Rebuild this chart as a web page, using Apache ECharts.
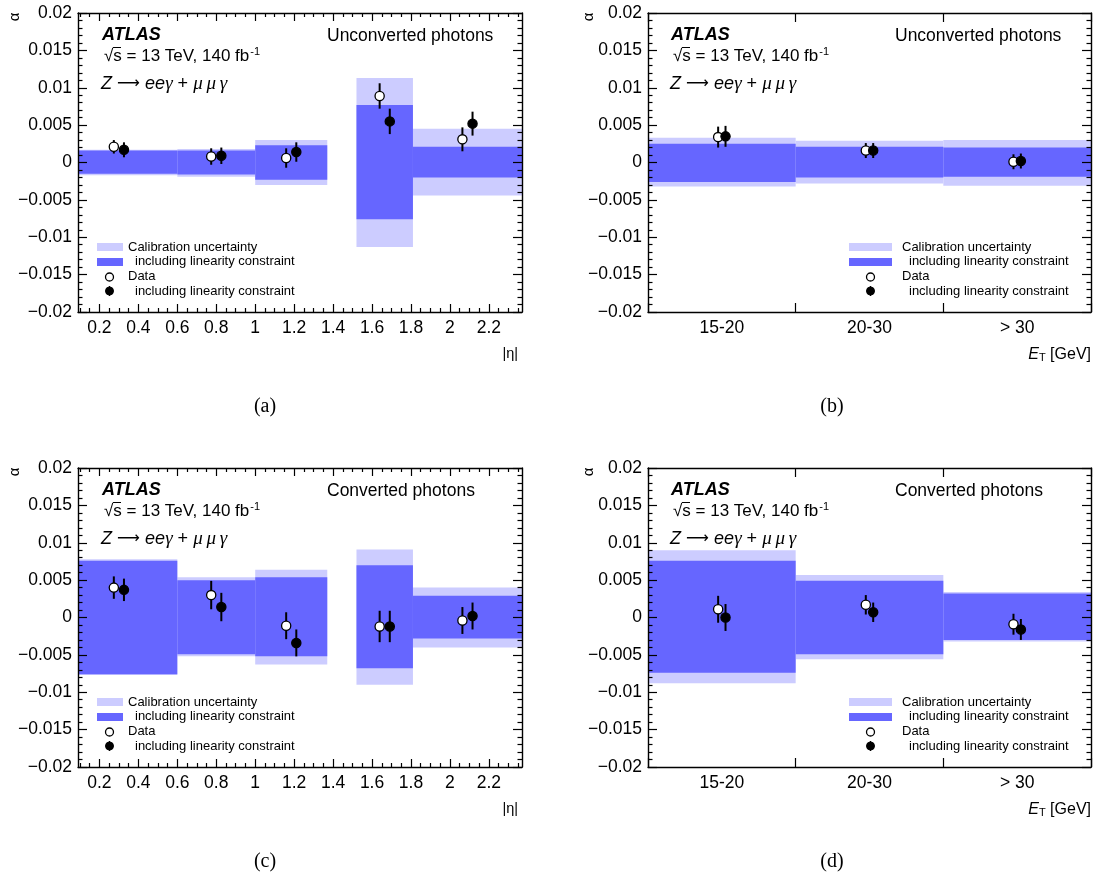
<!DOCTYPE html>
<html><head><meta charset="utf-8">
<script src="https://cdn.jsdelivr.net/npm/echarts@6/dist/echarts.min.js"></script>
<style>html,body{margin:0;padding:0;background:#fff}#c{width:1094px;height:877px}</style>
</head><body><div id="c"></div>
<script>
// ---------------- data ----------------
const etaBins = [[0, 0.6], [0.6, 1.0], [1.0, 1.37], [1.52, 1.81], [1.81, 2.37]];
const etaTickValues = [0.2, 0.4, 0.6, 0.8, 1.0, 1.2, 1.4, 1.6, 1.8, 2.0, 2.2];
const etCategories = ['15-20', '20-30', '> 30'];
const yTickValues = [-0.02, -0.015, -0.01, -0.005, 0, 0.005, 0.01, 0.015, 0.02];

// (a) unconverted, |eta|
const aCalibHi = [0.0017, 0.0018, 0.0030, 0.0113, 0.0045];
const aCalibLo = [-0.0017, -0.0019, -0.0030, -0.0113, -0.0044];
const aLinHi = [0.0016, 0.0016, 0.0023, 0.0077, 0.0021];
const aLinLo = [-0.0015, -0.0016, -0.0023, -0.0076, -0.0020];
const aData = [0.0021, 0.0008, 0.0006, 0.0089, 0.0031];
const aDataErr = [0.0009, 0.0011, 0.0013, 0.0017, 0.0016];
const aLinData = [0.0017, 0.0009, 0.0014, 0.0055, 0.0052];
const aLinErr = [0.0010, 0.0011, 0.0013, 0.0017, 0.0016];

// (b) unconverted, ET
const bCalibHi = [0.0033, 0.0029, 0.0030];
const bCalibLo = [-0.0032, -0.0028, -0.0031];
const bLinHi = [0.0025, 0.0021, 0.0020];
const bLinLo = [-0.0026, -0.0020, -0.0019];
const bData = [0.0034, 0.0016, 0.0001];
const bDataErr = [0.0014, 0.0010, 0.0010];
const bLinData = [0.0035, 0.0016, 0.0002];
const bLinErr = [0.0014, 0.0010, 0.0010];

// (c) converted, |eta|
const cCalibHi = [0.0078, 0.0054, 0.0064, 0.0091, 0.0040];
const cCalibLo = [-0.0077, -0.0052, -0.0063, -0.0090, -0.0040];
const cLinHi = [0.0076, 0.0050, 0.0054, 0.0070, 0.0029];
const cLinLo = [-0.0076, -0.0049, -0.0052, -0.0068, -0.0028];
const cData = [0.0040, 0.0030, -0.0011, -0.0012, -0.0004];
const cDataErr = [0.0015, 0.0019, 0.0018, 0.0021, 0.0018];
const cLinData = [0.0037, 0.0014, -0.0034, -0.0012, 0.0002];
const cLinErr = [0.0015, 0.0019, 0.0018, 0.0021, 0.0018];

// (d) converted, ET
const dCalibHi = [0.0090, 0.0057, 0.0034];
const dCalibLo = [-0.0088, -0.0056, -0.0032];
const dLinHi = [0.0076, 0.0049, 0.0032];
const dLinLo = [-0.0074, -0.0049, -0.0030];
const dData = [0.0011, 0.0017, -0.0009];
const dDataErr = [0.0018, 0.0013, 0.0014];
const dLinData = [0.0000, 0.0007, -0.0016];
const dLinErr = [0.0018, 0.0013, 0.0014];

// ---------------- styling ----------------
const FONT = '"Liberation Sans", Arial, Helvetica, sans-serif';
const SERIF = '"Liberation Serif", "Times New Roman", serif';
const LIGHT = '#ccccff', DARK = '#6666ff';
const BIG = 17.5;
const grids = [
  {left: 78, top: 13, width: 444, height: 299},
  {left: 648, top: 13, width: 443, height: 299},
  {left: 78, top: 468, width: 444, height: 299},
  {left: 648, top: 468, width: 443, height: 299}
];
const ETA_MIN = 0.09, ETA_MAX = 2.37;
const PT_OFF = 0.026;   // horizontal offset of the two markers, eta units
const CAT_OFF = 0.025;  // same, in fraction of category width

const minorEta = [];
for (let k = 2; k <= 47; k++) { const v = +(k * 0.05).toFixed(2); if (v > ETA_MIN && v < ETA_MAX && Math.abs(v * 5 - Math.round(v * 5)) > 1e-6) minorEta.push(v); }

const lineStyle = {color: '#000', width: 1.4};
const xAxes = [], yAxes = [], series = [];

function yLabel(v) {
  const r = Math.round(v * 10000) / 10000;
  if (r === 0) return '0';
  return (r < 0 ? '\u2212' : '') + String(Math.abs(r));
}

function addYAxes(g) {
  const base = {
    type: 'value', gridIndex: g, min: -0.02, max: 0.02, interval: 0.005, z: 10,
    axisLine: {show: true, onZero: false, lineStyle},
    axisTick: {show: true, inside: true, length: 9, lineStyle: {color: '#000', width: 1.2}},
    minorTick: {show: true, splitNumber: 5, length: 4.5, lineStyle: {color: '#000', width: 1.2}},
    splitLine: {show: false}, minorSplitLine: {show: false}
  };
  const left = Object.assign({}, base, {position: 'left',
    axisLabel: {show: true, formatter: yLabel, color: '#000', fontFamily: FONT, fontSize: BIG, margin: 6}});
  const right = Object.assign({}, base, {position: 'right', axisLabel: {show: false}});
  yAxes.push(left, right);
  return yAxes.length - 2;
}

function addEtaXAxes(g) {
  const mk = (pos, vals, len, label, line) => ({
    type: 'value', gridIndex: g, min: ETA_MIN, max: ETA_MAX, position: pos, z: 10,
    axisLine: {show: line, onZero: false, lineStyle},
    axisTick: {show: true, inside: true, length: len, customValues: vals, lineStyle: {color: '#000', width: 1.2}},
    axisLabel: label ? {show: true, customValues: etaTickValues, formatter: v => String(+(+v).toFixed(1)),
      color: '#000', fontFamily: FONT, fontSize: BIG, margin: 7} : {show: false},
    splitLine: {show: false}
  });
  xAxes.push(mk('bottom', etaTickValues, 8, true, true));
  xAxes.push(mk('bottom', minorEta, 4, false, false));
  xAxes.push(mk('top', etaTickValues, 8, false, true));
  xAxes.push(mk('top', minorEta, 4, false, false));
  return xAxes.length - 4;
}

function addCatXAxes(g) {
  const mk = (pos, label) => ({
    type: 'category', gridIndex: g, data: etCategories, boundaryGap: true, position: pos, z: 10,
    axisLine: {show: true, onZero: false, lineStyle},
    axisTick: {show: true, inside: true, length: 9, lineStyle: {color: '#000', width: 1.2}},
    axisLabel: label ? {show: true, color: '#000', fontFamily: FONT, fontSize: BIG, margin: 7} : {show: false},
    splitLine: {show: false}
  });
  xAxes.push(mk('bottom', true));
  xAxes.push(mk('top', false));
  return xAxes.length - 2;
}

function clipRect(r, cs) {
  return echarts.graphic.clipRectByRect(r, {x: cs.x, y: cs.y, width: cs.width, height: cs.height});
}

function etaBand(xi, yi, lo, hi, color, z) {
  series.push({
    type: 'custom', xAxisIndex: xi, yAxisIndex: yi, z, clip: true, silent: true,
    encode: {x: [0, 1], y: [2, 3]},
    data: etaBins.map((b, i) => [b[0], b[1], lo[i], hi[i]]),
    renderItem(params, api) {
      const p0 = api.coord([api.value(0), api.value(3)]);
      const p1 = api.coord([api.value(1), api.value(2)]);
      const shape = clipRect({x: p0[0], y: p0[1], width: p1[0] - p0[0], height: p1[1] - p0[1]}, params.coordSys);
      return shape && {type: 'rect', shape, style: {fill: color}};
    }
  });
}

function catBand(xi, yi, lo, hi, color, z) {
  series.push({
    type: 'custom', xAxisIndex: xi, yAxisIndex: yi, z, clip: true, silent: true,
    encode: {x: 0, y: [1, 2]},
    data: etCategories.map((c, i) => [i, lo[i], hi[i]]),
    renderItem(params, api) {
      const w = api.size([1, 0])[0];
      const p0 = api.coord([api.value(0), api.value(2)]);
      const p1 = api.coord([api.value(0), api.value(1)]);
      const shape = clipRect({x: p0[0] - w / 2, y: p0[1], width: w, height: p1[1] - p0[1]}, params.coordSys);
      return shape && {type: 'rect', shape, style: {fill: color}};
    }
  });
}

function marker(cx, y0, y1, cy, filled) {
  return {type: 'group', children: [
    {type: 'line', shape: {x1: cx, y1: y0, x2: cx, y2: y1}, style: {stroke: '#000', lineWidth: 2}},
    {type: 'circle', shape: {cx, cy, r: 4.6}, style: {fill: filled ? '#000' : '#fff', stroke: '#000', lineWidth: 1.3}}
  ]};
}

function etaPoints(xi, yi, vals, errs, off, filled) {
  series.push({
    type: 'custom', xAxisIndex: xi, yAxisIndex: yi, z: 5, silent: true,
    encode: {x: 0, y: 1},
    data: etaBins.map((b, i) => [(b[0] + b[1]) / 2, vals[i], errs[i]]),
    renderItem(params, api) {
      const x = api.value(0) + off, v = api.value(1), e = api.value(2);
      const c = api.coord([x, v]);
      return marker(c[0], api.coord([x, v - e])[1], api.coord([x, v + e])[1], c[1], filled);
    }
  });
}

function catPoints(xi, yi, vals, errs, off, filled) {
  series.push({
    type: 'custom', xAxisIndex: xi, yAxisIndex: yi, z: 5, silent: true,
    encode: {x: 0, y: 1},
    data: etCategories.map((c, i) => [i, vals[i], errs[i]]),
    renderItem(params, api) {
      const i = api.value(0), v = api.value(1), e = api.value(2);
      const w = api.size([1, 0])[0];
      const c = api.coord([i, v]);
      const cx = c[0] + off * w;
      return marker(cx, api.coord([i, v - e])[1], api.coord([i, v + e])[1], c[1], filled);
    }
  });
}

function etaPanel(g, calLo, calHi, linLo, linHi, d, de, ld, le) {
  const xi = addEtaXAxes(g), yi = addYAxes(g);
  etaBand(xi, yi, calLo, calHi, LIGHT, 1);
  etaBand(xi, yi, linLo, linHi, DARK, 2);
  etaPoints(xi, yi, d, de, -PT_OFF, false);
  etaPoints(xi, yi, ld, le, PT_OFF, true);
}
function catPanel(g, calLo, calHi, linLo, linHi, d, de, ld, le) {
  const xi = addCatXAxes(g), yi = addYAxes(g);
  catBand(xi, yi, calLo, calHi, LIGHT, 1);
  catBand(xi, yi, linLo, linHi, DARK, 2);
  catPoints(xi, yi, d, de, -CAT_OFF, false);
  catPoints(xi, yi, ld, le, CAT_OFF, true);
}

etaPanel(0, aCalibLo, aCalibHi, aLinLo, aLinHi, aData, aDataErr, aLinData, aLinErr);
catPanel(1, bCalibLo, bCalibHi, bLinLo, bLinHi, bData, bDataErr, bLinData, bLinErr);
etaPanel(2, cCalibLo, cCalibHi, cLinLo, cLinHi, cData, cDataErr, cLinData, cLinErr);
catPanel(3, dCalibLo, dCalibHi, dLinLo, dLinHi, dData, dDataErr, dLinData, dLinErr);

// ---------------- text / legends ----------------
const graphics = [];
function txt(x, y, text, opts) {
  graphics.push({type: 'text', x, y, z: 100, silent: true,
    style: Object.assign({text, fill: '#000', font: BIG + 'px ' + FONT, align: 'left', verticalAlign: 'middle'}, opts || {})});
}
function panelTexts(ox, oy, title, titleX, legX, legW, legTx) {
  txt(ox + 102, oy + 35, 'ATLAS', {font: 'italic bold 18px ' + FONT});
  txt(ox + 104, oy + 56, '{n|\u221As = 13 TeV, 140 fb}{s|-1}', {rich: {
    n: {font: '17px ' + FONT, fill: '#000'},
    s: {font: '11px ' + FONT, fill: '#000', padding: [0, 0, 9, 1]}}});
  // overline of the square root
  graphics.push({type: 'line', z: 100, silent: true,
    shape: {x1: ox + 113, y1: oy + 47.5, x2: ox + 121, y2: oy + 47.5}, style: {stroke: '#000', lineWidth: 1}});
  txt(ox + 101, oy + 84, '{i|Z}{a| \u27F6 }{i|ee}{g|\u03B3}{n| + }{g|\u03BC\u2009\u03BC\u2009\u03B3}', {rich: {
    i: {font: 'italic 18px ' + FONT, fill: '#000'},
    g: {font: 'italic 19px ' + SERIF, fill: '#000'},
    a: {font: '16px "DejaVu Sans", sans-serif', fill: '#000'},
    n: {font: '18px ' + FONT, fill: '#000'}}});
  txt(titleX, oy + 36, title);
  // legend
  graphics.push({type: 'rect', z: 100, silent: true, shape: {x: legX, y: oy + 243, width: legW, height: 8}, style: {fill: LIGHT}});
  graphics.push({type: 'rect', z: 100, silent: true, shape: {x: legX, y: oy + 258, width: legW, height: 8}, style: {fill: DARK}});
  const cx = legX + legW / 2 + (legW > 30 ? 0 : -0.5);
  graphics.push({type: 'circle', z: 100, silent: true, shape: {cx, cy: oy + 277, r: 4}, style: {fill: '#fff', stroke: '#000', lineWidth: 1.3}});
  graphics.push({type: 'line', z: 100, silent: true, shape: {x1: cx, y1: oy + 286, x2: cx, y2: oy + 296}, style: {stroke: '#000', lineWidth: 1.5}});
  graphics.push({type: 'circle', z: 101, silent: true, shape: {cx, cy: oy + 291, r: 4}, style: {fill: '#000', stroke: '#000', lineWidth: 1}});
  const lf = {font: '13px ' + FONT};
  txt(legTx, oy + 247, 'Calibration uncertainty', lf);
  txt(legTx + 7, oy + 261, 'including linearity constraint', lf);
  txt(legTx, oy + 276, 'Data', lf);
  txt(legTx + 7, oy + 291, 'including linearity constraint', lf);
}
panelTexts(0, 0, 'Unconverted photons', 327, 97, 26, 128);
panelTexts(569, 0, 'Unconverted photons', 895, 849, 43, 902);
panelTexts(0, 455, 'Converted photons', 327, 97, 26, 128);
panelTexts(569, 455, 'Converted photons', 895, 849, 43, 902);

// axis names
[[15, 17], [589, 17], [15, 472], [589, 472]].forEach(p => {
  graphics.push({type: 'text', x: p[0], y: p[1], rotation: Math.PI / 2, z: 100, silent: true,
    style: {text: '\u03B1', fill: '#000', font: '15px ' + FONT, align: 'center', verticalAlign: 'middle'}});
});
txt(518, 354, '|\u03B7|', {align: 'right', font: '14.5px ' + FONT});
txt(518, 809, '|\u03B7|', {align: 'right', font: '14.5px ' + FONT});
const etRich = {i: {font: 'italic 16px ' + FONT, fill: '#000'}, s: {font: '11px ' + FONT, fill: '#000', padding: [6, 0, 0, 0]}, n: {font: '16px ' + FONT, fill: '#000'}};
txt(1091, 355, '{i|E}{s|T}{n| [GeV]}', {align: 'right', rich: etRich});
txt(1091, 810, '{i|E}{s|T}{n| [GeV]}', {align: 'right', rich: etRich});
// captions
[['(a)', 265, 407], ['(b)', 832, 407], ['(c)', 265, 862], ['(d)', 832, 862]].forEach(c => {
  txt(c[1], c[2], c[0], {align: 'center', font: '20px ' + SERIF});
});

const chart = echarts.init(document.getElementById('c'), null, {renderer: 'canvas'});
chart.setOption({
  animation: false,
  backgroundColor: '#fff',
  grid: grids.map(g => Object.assign({containLabel: false}, g)),
  xAxis: xAxes,
  yAxis: yAxes,
  series,
  graphic: graphics
});
</script></body></html>
